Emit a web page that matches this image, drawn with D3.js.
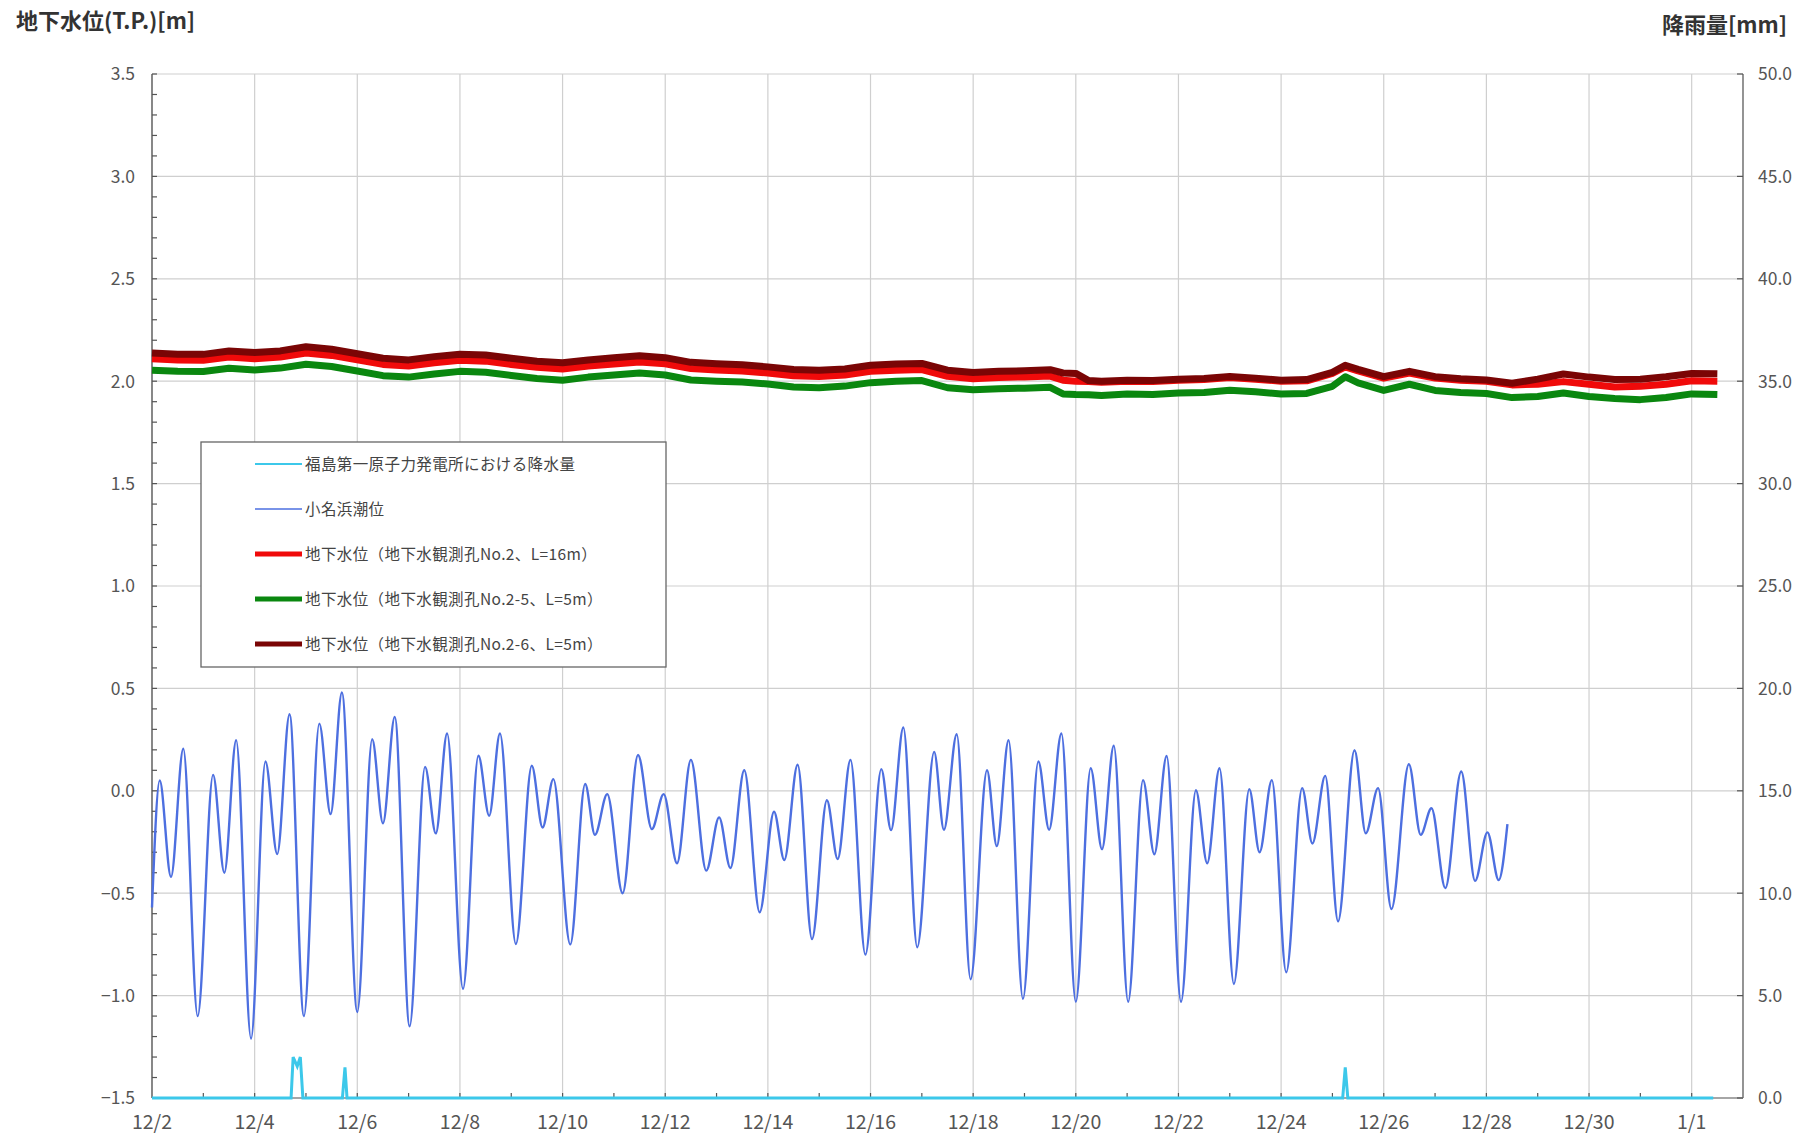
<!DOCTYPE html>
<html><head><meta charset="utf-8">
<script src="https://cdn.jsdelivr.net/npm/d3@7"></script>
<style>
body{margin:0;background:#fff;}
svg{display:block;}
text{font-family:"Noto Sans CJK JP","Noto Sans",sans-serif;}
</style></head><body>
<svg id="c" width="1816" height="1136"></svg>
<script>
// ---------------- data ----------------
const startDate = new Date(2013, 11, 2);
const endDate = new Date(2014, 0, 2);
const xTickDays = [0,2,4,6,8,10,12,14,16,18,20,22,24,26,28,30];
const xTickLabels = ["12/2","12/4","12/6","12/8","12/10","12/12","12/14","12/16","12/18","12/20","12/22","12/24","12/26","12/28","12/30","1/1"];
const leftTicks = [-1.5,-1.0,-0.5,0.0,0.5,1.0,1.5,2.0,2.5,3.0,3.5];
const rightTicks = [0,5,10,15,20,25,30,35,40,45,50];
const leftTitle = "地下水位(T.P.)[m]";
const rightTitle = "降雨量[mm]";
const legendLabels = [
  "福島第一原子力発電所における降水量",
  "小名浜潮位",
  "地下水位（地下水観測孔No.2、L=16m）",
  "地下水位（地下水観測孔No.2-5、L=5m）",
  "地下水位（地下水観測孔No.2-6、L=5m）"
];

// rainfall [mm] (right axis), days since 12/2 00:00
const rainDays = [0, 2.71, 2.75, 2.83, 2.89, 2.94, 3.71, 3.76, 3.80, 23.20, 23.25, 23.30, 30.42];
const rainMM   = [0, 0,    2.0,  1.55, 2.0,  0,    0,    1.5,  0,    0,     1.5,   0,     0];

// Onahama tide level [m] (turning points), days since 12/2 00:00
const tideDays = [0.00,0.15,0.37,0.61,0.89,1.19,1.41,1.64,1.93,2.21,2.44,2.68,2.96,3.26,3.48,3.70,4.00,4.29,4.50,4.73,5.02,5.32,5.53,5.75,6.06,6.36,6.57,6.78,7.09,7.40,7.61,7.82,8.15,8.44,8.63,8.87,9.17,9.47,9.74,9.97,10.23,10.50,10.80,11.05,11.27,11.54,11.84,12.12,12.32,12.58,12.86,13.15,13.36,13.61,13.90,14.21,14.40,14.64,14.91,15.24,15.43,15.68,15.95,16.27,16.46,16.69,16.97,17.27,17.48,17.72,18.00,18.29,18.51,18.74,19.02,19.31,19.53,19.77,20.05,20.34,20.56,20.80,21.08,21.38,21.58,21.82,22.10,22.41,22.61,22.86,23.11,23.43,23.65,23.89,24.15,24.49,24.72,24.93,25.20,25.51,25.78,26.02,26.24,26.41];
const tideLevel = [-0.57,0.05,-0.42,0.205,-1.10,0.078,-0.40,0.247,-1.21,0.143,-0.309,0.374,-1.10,0.328,-0.114,0.48,-1.08,0.252,-0.159,0.361,-1.15,0.117,-0.208,0.28,-0.967,0.171,-0.122,0.28,-0.748,0.122,-0.179,0.057,-0.75,0.033,-0.215,-0.016,-0.50,0.175,-0.187,-0.016,-0.354,0.151,-0.39,-0.13,-0.377,0.10,-0.593,-0.102,-0.338,0.127,-0.724,-0.046,-0.333,0.151,-0.80,0.106,-0.192,0.309,-0.764,0.19,-0.19,0.276,-0.92,0.10,-0.27,0.247,-1.016,0.143,-0.19,0.28,-1.03,0.11,-0.285,0.22,-1.03,0.052,-0.31,0.17,-1.03,0.003,-0.354,0.11,-0.943,0.008,-0.30,0.052,-0.886,0.013,-0.257,0.073,-0.637,0.198,-0.208,0.013,-0.577,0.13,-0.215,-0.085,-0.475,0.094,-0.44,-0.203,-0.436,-0.163];

// groundwater levels [m], days since 12/2 00:00
const gwDays = [0,0.5,1,1.5,2,2.5,3,3.5,4,4.5,5,5.5,6,6.5,7,7.5,8,8.5,9,9.5,10,10.5,11,11.5,12,12.5,13,13.5,14,14.5,15,15.5,16,16.5,17,17.5,17.75,18,18.25,18.5,19,19.5,20,20.5,21,21.5,22,22.5,23,23.25,23.5,24,24.5,25,25.5,26,26.5,27,27.5,28,28.5,29,29.5,30,30.5];
const gwNo25 = [2.054,2.048,2.047,2.063,2.055,2.064,2.083,2.072,2.050,2.027,2.020,2.035,2.048,2.044,2.028,2.013,2.005,2.020,2.030,2.040,2.030,2.006,2.000,1.996,1.986,1.972,1.968,1.976,1.993,2.000,2.003,1.968,1.958,1.963,1.966,1.970,1.938,1.935,1.934,1.930,1.937,1.935,1.942,1.945,1.956,1.948,1.938,1.940,1.975,2.022,1.992,1.955,1.985,1.955,1.945,1.940,1.920,1.925,1.942,1.925,1.915,1.910,1.920,1.938,1.935];
const gwNo2  = [2.110,2.104,2.102,2.118,2.110,2.118,2.138,2.126,2.104,2.082,2.074,2.090,2.102,2.098,2.082,2.068,2.060,2.074,2.084,2.094,2.085,2.062,2.055,2.050,2.040,2.027,2.023,2.030,2.048,2.054,2.057,2.024,2.012,2.018,2.021,2.025,2.005,2.000,1.998,1.995,2.000,1.998,2.005,2.008,2.018,2.010,2.000,2.002,2.038,2.070,2.050,2.015,2.040,2.015,2.005,2.000,1.982,1.985,1.998,1.985,1.972,1.975,1.985,2.002,2.000];
const gwNo26 = [2.138,2.132,2.131,2.147,2.140,2.148,2.168,2.156,2.134,2.112,2.104,2.120,2.132,2.128,2.112,2.097,2.090,2.104,2.114,2.124,2.115,2.092,2.085,2.080,2.070,2.057,2.053,2.060,2.078,2.084,2.087,2.054,2.042,2.048,2.051,2.056,2.040,2.038,2.003,2.000,2.005,2.003,2.010,2.013,2.023,2.015,2.005,2.008,2.043,2.078,2.058,2.022,2.048,2.022,2.012,2.006,1.990,2.010,2.035,2.020,2.008,2.010,2.022,2.038,2.036];

// ---------------- drawing ----------------
const svg = d3.select("#c");
const L = 152, R = 1743, T = 74, B = 1098;
const toDate = d => new Date(startDate.getTime() + d * 864e5);
const x = d3.scaleTime().domain([startDate, endDate]).range([L, R]);
const y = d3.scaleLinear().domain([-1.5, 3.5]).range([B, T]);
const y2 = d3.scaleLinear().domain([0, 50]).range([B, T]);

const grid = svg.append("g");
grid.selectAll("line.h").data(leftTicks.filter(v => v > -1.5)).join("line")
  .attr("x1", L).attr("x2", R).attr("y1", d => y(d)).attr("y2", d => y(d))
  .attr("stroke", "#cfcfcf").attr("stroke-width", 1.2);
grid.selectAll("line.v").data(xTickDays.filter(d => d > 0)).join("line")
  .attr("x1", d => x(toDate(d))).attr("x2", d => x(toDate(d))).attr("y1", T).attr("y2", B)
  .attr("stroke", "#cfcfcf").attr("stroke-width", 1.2);

const ax = svg.append("g").attr("stroke", "#555").attr("stroke-width", 1.4);
ax.append("line").attr("x1", L).attr("x2", L).attr("y1", T).attr("y2", B);
ax.append("line").attr("x1", R).attr("x2", R).attr("y1", T).attr("y2", B).attr("stroke", "#666");
ax.append("line").attr("x1", L).attr("x2", R).attr("y1", B).attr("y2", B).attr("stroke", "#888");
const minorY = d3.range(-15, 36).map(i => i / 10);
ax.selectAll("line.my").data(minorY).join("line")
  .attr("x1", L).attr("x2", L + 5).attr("y1", d => y(d)).attr("y2", d => y(d)).attr("stroke-width", 1.2);
ax.selectAll("line.ry").data(rightTicks).join("line")
  .attr("x1", R - 6).attr("x2", R).attr("y1", d => y2(d)).attr("y2", d => y2(d)).attr("stroke-width", 1.2);
ax.selectAll("line.mx").data(d3.range(1, 31)).join("line")
  .attr("x1", d => x(toDate(d))).attr("x2", d => x(toDate(d))).attr("y1", B).attr("y2", B - 5).attr("stroke-width", 1.2);

const lab = svg.append("g").attr("fill", "#555");
lab.selectAll("text.yl").data(leftTicks).join("text")
  .attr("x", L - 17).attr("y", d => y(d)).attr("dy", "0.36em").attr("text-anchor", "end")
  .attr("font-size", 17.5).text(d => d3.format(".1f")(d));
lab.selectAll("text.yr").data(rightTicks).join("text")
  .attr("x", R + 15).attr("y", d => y2(d)).attr("dy", "0.36em").attr("text-anchor", "start")
  .attr("font-size", 17.5).text(d => d3.format(".1f")(d));
lab.selectAll("text.xl").data(xTickDays).join("text")
  .attr("x", d => x(toDate(d))).attr("y", B + 31).attr("text-anchor", "middle")
  .attr("font-size", 19.5).text((d, i) => xTickLabels[i]);

svg.append("text").attr("x", 16).attr("y", 29).attr("font-size", 22).attr("font-weight", "bold")
  .attr("fill", "#333").text(leftTitle);
svg.append("text").attr("x", 1787).attr("y", 33).attr("font-size", 22).attr("font-weight", "bold")
  .attr("fill", "#333").attr("text-anchor", "end").text(rightTitle);

const lineRain = d3.line().x(d => x(toDate(d[0]))).y(d => y2(d[1]));
svg.append("path").datum(rainDays.map((d, i) => [d, rainMM[i]]))
  .attr("d", lineRain).attr("fill", "none").attr("stroke", "#3cc8ea").attr("stroke-width", 3);

const lineTide = d3.line().x(d => x(toDate(d[0]))).y(d => y(d[1])).curve(d3.curveMonotoneX);
svg.append("path").datum(tideDays.map((d, i) => [d, tideLevel[i]]))
  .attr("d", lineTide).attr("fill", "none").attr("stroke", "#4d6fe0").attr("stroke-width", 2.4);

const lineGw = d3.line().x(d => x(toDate(d[0]))).y(d => y(d[1]));
[[gwNo2, "#f00a0a"], [gwNo25, "#0a870f"], [gwNo26, "#7a0505"]].forEach(([vals, col]) => {
  svg.append("path").datum(gwDays.map((d, i) => [d, vals[i]]))
    .attr("d", lineGw).attr("fill", "none").attr("stroke", col).attr("stroke-width", 7)
    .attr("stroke-linejoin", "round");
});

const lg = svg.append("g");
lg.append("rect").attr("x", 201).attr("y", 442).attr("width", 465).attr("height", 225)
  .attr("fill", "#fff").attr("stroke", "#666").attr("stroke-width", 1.3);
const legColors = ["#3cc8ea", "#4d6fe0", "#f00a0a", "#0a870f", "#7a0505"];
const legWidths = [2, 1.6, 5, 5, 5];
legendLabels.forEach((t, i) => {
  const yy = 464 + i * 45;
  lg.append("line").attr("x1", 255).attr("x2", 302).attr("y1", yy).attr("y2", yy)
    .attr("stroke", legColors[i]).attr("stroke-width", legWidths[i]);
  lg.append("text").attr("x", 305).attr("y", yy).attr("dy", "0.36em").attr("font-size", 15.5)
    .attr("letter-spacing", 0.4).attr("fill", "#444").text(t);
});
</script>
</body></html>
